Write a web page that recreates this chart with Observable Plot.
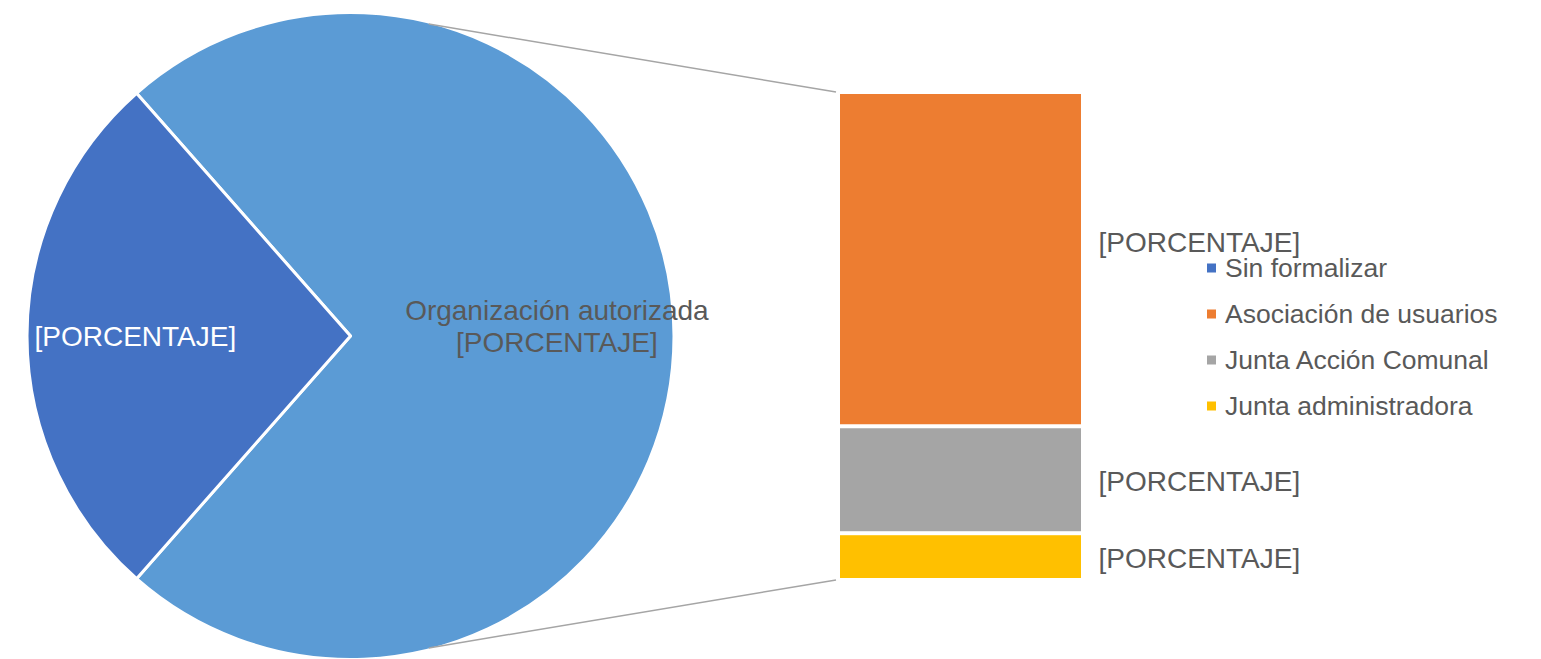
<!DOCTYPE html>
<html>
<head>
<meta charset="utf-8">
<script src="https://cdn.jsdelivr.net/npm/d3@7"></script>
<script src="https://cdn.jsdelivr.net/npm/@observablehq/plot@0.6"></script>
<style>
  html, body { margin: 0; padding: 0; background: #fff; }
  #chart { width: 1541px; height: 659px; }
</style>
</head>
<body>
<div id="chart"></div>
<script>
// ---- data ----
const pieCategories = ["Organización autorizada", "Sin formalizar"];
const pieValues = [73, 27];
const barCategories = ["Asociación de usuarios", "Junta Acción Comunal", "Junta administradora"];
const barValues = [50, 16, 7];
const legendLabels = ["Sin formalizar", "Asociación de usuarios", "Junta Acción Comunal", "Junta administradora"];
const labelText = "[PORCENTAJE]";

// ---- styles ----
const palette = {
  "Organización autorizada": "#5B9BD5",
  "Sin formalizar": "#4472C4",
  "Asociación de usuarios": "#ED7D31",
  "Junta Acción Comunal": "#A5A5A5",
  "Junta administradora": "#FFC000"
};
const FONT = "'Liberation Sans', Arial, sans-serif";
const TEXT = "#595959";

// bar table (stacked top-down)
const barTotal = d3.sum(barValues);
let stackTop = barTotal;
const barRows = barCategories.map((name, i) => {
  const row = {name, value: barValues[i], y2: stackTop, y1: stackTop - barValues[i]};
  row.mid = (row.y1 + row.y2) / 2;
  stackTop = row.y1;
  return row;
});
const pieRows = pieCategories.map((name, i) => ({name, value: pieValues[i]}));

const cx = 350.5, cy = 336, R = 323.5;

function pieMark(index, scales, values, dims) {
  const g = d3.create("svg:g").attr("text-anchor", "start");
  // start so that the "other" slice is centred on the right
  const otherAngle = pieValues[0] / d3.sum(pieValues) * 2 * Math.PI;
  const start = Math.PI / 2 - otherAngle / 2;
  const arcs = d3.pie().sort(null).value(d => d.value)
    .startAngle(start).endAngle(start + 2 * Math.PI)(pieRows);
  const arc = d3.arc().innerRadius(0).outerRadius(R);
  const gp = g.append("g").attr("transform", `translate(${cx},${cy})`);
  gp.selectAll("path").data(arcs).join("path")
    .attr("d", arc)
    .attr("fill", d => scales.color(d.data.name))
    .attr("stroke", "#fff").attr("stroke-width", 3).attr("stroke-linejoin", "round");
  // labels
  const labelRadius = [0.638, 0.665];
  arcs.forEach((a, i) => {
    const r = R * labelRadius[i];
    const [lx, ly] = d3.arc().innerRadius(r).outerRadius(r).centroid(a);
    const t = gp.append("text")
      .attr("text-anchor", "middle")
      .attr("font-family", FONT).attr("font-size", 28)
      .attr("fill", i === 0 ? TEXT : "#fff");
    if (i === 0) {
      t.append("tspan").attr("x", lx).attr("y", ly - 26).attr("dy", "0.35em").text(a.data.name);
      t.append("tspan").attr("x", lx).attr("y", ly + 6).attr("dy", "0.35em").text(labelText);
    } else {
      t.append("tspan").attr("x", lx).attr("y", ly).attr("dy", "0.35em").text(labelText);
    }
  });
  // connector lines from pie to bar
  const ang = 14 * Math.PI / 180;
  const px = cx + R * Math.sin(ang);
  const bx = scales.x(0) - 4;
  [[cy - R * Math.cos(ang) + 2, scales.y(barTotal)], [cy + R * Math.cos(ang) - 2, scales.y(0)]].forEach(([py, by]) => {
    g.append("line").attr("x1", px).attr("y1", py).attr("x2", bx).attr("y2", by)
      .attr("stroke", "#A5A5A5").attr("stroke-width", 1.5);
  });
  // legend
  const lg = g.append("g").attr("font-family", FONT).attr("font-size", 26.5).attr("fill", TEXT).attr("text-anchor", "start");
  legendLabels.forEach((name, i) => {
    const yy = 268 + i * 46;
    lg.append("rect").attr("x", 1207).attr("y", yy - 4.5).attr("width", 9).attr("height", 9)
      .attr("fill", scales.color(name));
    lg.append("text").attr("x", 1225).attr("y", yy).attr("dy", "0.35em").text(name);
  });
  return g.node();
}

const chart = Plot.plot({
  width: 1541,
  height: 659,
  margin: 0,
  style: {background: "#fff", fontFamily: FONT},
  x: {domain: [0, 1], range: [840, 1081], axis: null},
  y: {domain: [0, barTotal], range: [580, 92], axis: null},
  color: {domain: Object.keys(palette), range: Object.values(palette)},
  marks: [
    Plot.rect(barRows, {x1: d => 0, x2: d => 1, y1: "y1", y2: "y2", fill: "name", insetTop: 2, insetBottom: 2}),
    Plot.text(barRows.slice(0, 1), {x: d => 1, y: "mid", text: d => labelText, textAnchor: "start", dx: 17, dy: -17, fontSize: 28, fill: TEXT, fontFamily: FONT}),
    Plot.text(barRows.slice(1), {x: d => 1, y: "mid", text: d => labelText, textAnchor: "start", dx: 17, dy: 2, fontSize: 28, fill: TEXT, fontFamily: FONT}),
    pieMark
  ]
});
document.getElementById("chart").append(chart);
</script>
</body>
</html>
